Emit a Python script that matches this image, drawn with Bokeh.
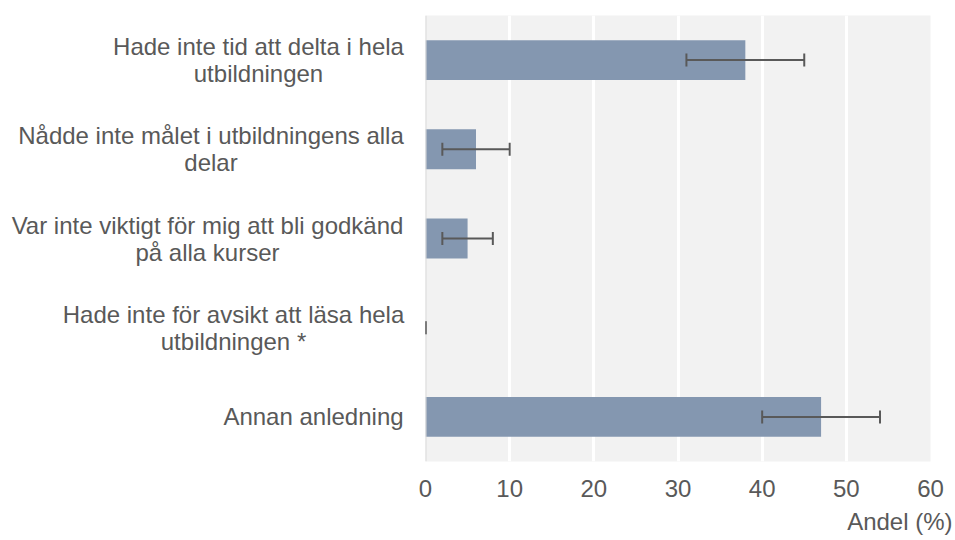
from bokeh.plotting import figure
from bokeh.layouts import row
from bokeh.models import ColumnDataSource, Whisker, TeeHead, Title, FactorRange, Span
from bokeh.core.properties import value
from bokeh.embed import file_html
from bokeh.resources import INLINE

categories = [
    "Hade inte tid att delta i hela\nutbildningen",
    "Nådde inte målet i utbildningens alla\ndelar",
    "Var inte viktigt för mig att bli godkänd\npå alla kurser",
    "Hade inte för avsikt att läsa hela\nutbildningen *",
    "Annan anledning",
]
values = [38, 6, 5, 0, 47]
lower = [31, 2, 2, 0, 40]
upper = [45, 10, 8, 0, 54]
x_ticks = [0, 10, 20, 30, 40, 50, 60]

# horizontal centre (px) of each category label block in the label column
label_centres = [258, 210.5, 207, 233, 313]

TEXT = "#595959"
FONT = "Liberation Sans"
H = 540
TOP = 15
BOTTOM = 78
LABEL_W = 405
GAP = 20

src = ColumnDataSource(dict(cat=categories, val=values, lo=lower, hi=upper,
                            cx=label_centres))
yr = FactorRange(factors=list(reversed(categories)))

# label column
lab = figure(width=LABEL_W, height=H, y_range=yr, x_range=(0, LABEL_W),
             output_backend="svg", toolbar_location=None,
             x_axis_location=None, y_axis_location=None,
             min_border_left=0, min_border_right=0,
             min_border_top=TOP, min_border_bottom=BOTTOM)
lab.outline_line_color = None
lab.xgrid.visible = False
lab.ygrid.visible = False
lab.text(x="cx", y="cat", text="cat", source=src,
         text_align="center", text_baseline="middle",
         text_font=value(FONT), text_font_size="24px", text_color=TEXT,
         text_line_height=1.0)

# bar chart
p = figure(
    width=955 - LABEL_W, height=H, y_range=yr, x_range=(0, 60),
    output_backend="svg", toolbar_location=None,
    min_border_left=GAP, min_border_right=25, min_border_top=TOP, min_border_bottom=BOTTOM,
)
p.background_fill_color = "#f2f2f2"
p.border_fill_color = "white"
p.outline_line_color = None

p.hbar(y="cat", right="val", left=0, height=0.447, source=src,
       fill_color="#8497b0", line_color=None)

p.xgrid.grid_line_color = "white"
p.xgrid.grid_line_width = 3
p.ygrid.grid_line_color = None

p.add_layout(Span(location=0, dimension="height", line_color="#d9d9d9", line_width=2))

w = Whisker(source=src, base="cat", lower="lo", upper="hi", dimension="width",
            line_color=TEXT, line_width=2, level="overlay",
            upper_head=TeeHead(size=13, line_color=TEXT, line_width=2),
            lower_head=TeeHead(size=13, line_color=TEXT, line_width=2))
p.add_layout(w)

p.xaxis.ticker = x_ticks
p.xaxis.axis_line_color = None
p.xaxis.major_tick_line_color = None
p.xaxis.minor_tick_line_color = None
p.xaxis.major_tick_out = 0
p.xaxis.major_tick_in = 0
p.xaxis.major_label_text_font = FONT
p.xaxis.major_label_text_font_size = "24px"
p.xaxis.major_label_text_color = TEXT
p.xaxis.major_label_standoff = 18

p.yaxis.visible = False

p.add_layout(Title(text="Andel (%)", align="right", offset=-22, standoff=12,
                   text_font=FONT, text_font_size="24px", text_color=TEXT,
                   text_font_style="normal"), "below")

layout = row(lab, p, spacing=0)
open("out.html", "w").write(file_html(layout, INLINE))
